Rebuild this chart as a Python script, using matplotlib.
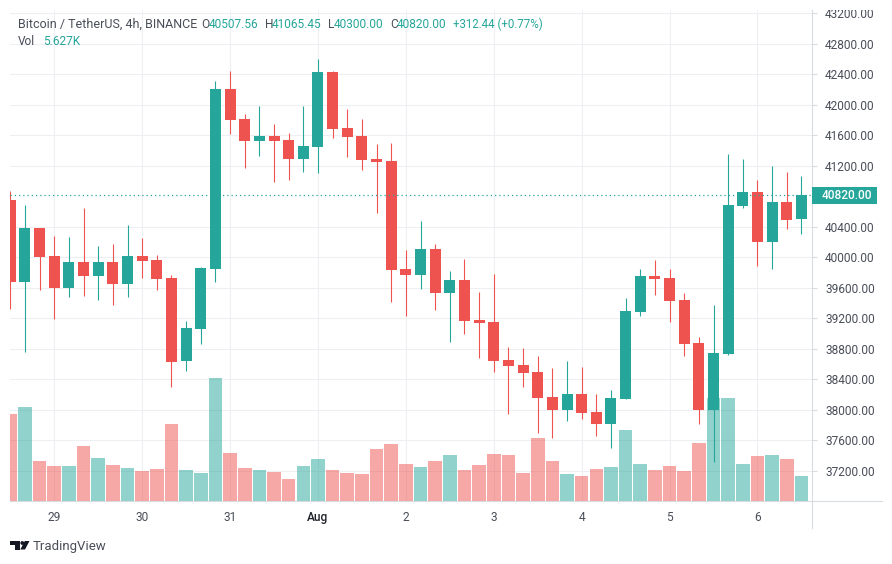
import matplotlib
matplotlib.use('Agg')
import matplotlib.pyplot as plt
from matplotlib.patches import Polygon, Circle, Rectangle
from matplotlib.transforms import Affine2D

plt.rcParams['font.family'] = ['Roboto', 'DejaVu Sans']

# OHLC per 4h candle
opens = [40750, 39679, 40383, 40016, 39600, 39940, 39753, 39940, 39648, 40016, 39963,
         39727, 38639, 39058, 39849, 42207, 41814, 41525, 41590, 41538, 41289, 41446,
         42430, 41695, 41590, 41289, 41262, 39845, 39767, 40108, 39534, 39701, 39176,
         39150, 38651, 38586, 38494, 38166, 37995, 38205, 37969, 37812, 38140, 39281,
         39753, 39727, 39438, 38874, 37995, 38730, 40672, 40855, 40199, 40724, 40507]
highs = [40869, 40685, 40383, 40280, 40268, 40650, 40147, 40174, 40423, 40255, 40029,
         39767, 39163, 39871, 42312, 42443, 41879, 41984, 41748, 41630, 41984, 42600,
         42443, 41945, 41814, 41485, 41498, 40097, 40475, 40176, 39820, 39978, 39543,
         39780, 38822, 38809, 38704, 38546, 38638, 38559, 38205, 38258, 39465, 39845,
         39963, 39845, 39530, 38953, 39373, 41354, 41288, 41013, 41197, 41118, 41065]
lows = [39320, 38760, 39570, 39190, 39482, 39495, 39438, 39373, 39482, 39727, 39570,
        38300, 38511, 38865, 39679, 41616, 41171, 41328, 40987, 41013, 41118, 41105,
        41564, 41315, 41144, 40580, 39416, 39232, 39583, 39307, 38891, 38996, 38681,
        38494, 37943, 38297, 37694, 37628, 37851, 37877, 37654, 37497, 38140, 39228,
        39504, 39150, 38704, 37812, 37313, 38717, 40646, 39885, 39845, 40370, 40300]
closes = [39679, 40383, 40003, 39600, 39940, 39753, 39940, 39648, 40016, 39950, 39714,
          38630, 39071, 39858, 42207, 41800, 41525, 41590, 41525, 41289, 41459, 42430,
          41682, 41577, 41275, 41249, 39832, 39767, 40108, 39534, 39701, 39167, 39137,
          38638, 38573, 38481, 38153, 37995, 38205, 37956, 37812, 38153, 39294, 39753,
          39714, 39425, 38861, 37995, 38743, 40685, 40855, 40199, 40724, 40488, 40820]
volumes = [19575, 21150, 9000, 7875, 7875, 12375, 9675, 8100, 7425, 6750, 7200,
           17325, 6975, 6300, 27675, 10800, 7425, 6975, 6525, 4950, 7875, 9450,
           6975, 6300, 6075, 11700, 12825, 8325, 7650, 9000, 10350, 6975, 8100,
           10575, 10350, 6300, 14175, 9000, 6075, 5625, 7200, 7650, 15975, 8325,
           6975, 7875, 6750, 13050, 23175, 23175, 8325, 10125, 10350, 9450, 5627]

price_ticks = [43200, 42800, 42400, 42000, 41600, 41200, 40400, 40000,
               39600, 39200, 38800, 38400, 38000, 37600, 37200]
date_pos = [3, 9, 15, 21, 27, 33, 39, 45, 51]
date_labels = ['29', '30', '31', 'Aug', '2', '3', '4', '5', '6']
last_price = 40820

GREEN = '#26a69a'
RED = '#ef5350'
GRID = '#eeeff2'
AXIS = '#d9dbe0'
TEXT = '#4a4e59'

W, H = 892, 564
fig = plt.figure(figsize=(W / 100, H / 100), dpi=100)
ax = fig.add_axes([10 / W, 1 - 501 / H, 802 / W, 491 / H])
ax.set_xlim(-0.02, 54.72)
ax.set_ylim(36801, 43243)
ax.grid(True, color=GRID, lw=0.8)
ax.set_axisbelow(True)

vol_ax = ax.twinx()
vol_ax.set_ylim(0, 491 * 225)
vol_ax.axis('off')

x = list(range(len(opens)))
up = [c >= o for o, c in zip(opens, closes)]
colors = [GREEN if u else RED for u in up]

vol_ax.bar(x, volumes, width=0.93, color=colors, alpha=0.5, lw=0)

# candles go on top of the volume bars
cndl_ax = ax.twinx()
cndl_ax.set_ylim(ax.get_ylim())
cndl_ax.axis('off')
cndl_ax.vlines(x, lows, highs, colors=colors, lw=0.8)
cndl_ax.bar(x, [abs(c - o) for o, c in zip(opens, closes)],
            bottom=[min(o, c) for o, c in zip(opens, closes)],
            width=0.75, color=colors, lw=0)
cndl_ax.axhline(last_price, color=GREEN, lw=0.9, ls=(0, (1, 2.4)))

for side in ['top', 'left']:
    ax.spines[side].set_visible(False)
ax.spines['right'].set_color(AXIS)
ax.spines['bottom'].set_color(AXIS)
ax.spines['right'].set_linewidth(0.8)
ax.spines['bottom'].set_linewidth(0.8)

ax.yaxis.tick_right()
ax.set_yticks(price_ticks)
ax.set_yticklabels(['%.2f' % p for p in price_ticks])
ax.tick_params(axis='y', length=3.5, width=0.8, color=AXIS, labelcolor=TEXT,
               labelsize=8.6, pad=6)
ax.set_xticks(date_pos)
ax.set_xticklabels(date_labels)
ax.tick_params(axis='x', length=0, labelcolor=TEXT, labelsize=8.6, pad=7)
for lab in ax.get_xticklabels():
    if lab.get_text() == 'Aug':
        lab.set_color('#20222a')
        lab.set_fontweight('medium')

# pixel coordinates, origin top left, for the decorations around the plot
px = Affine2D().scale(1 / W, -1 / H).translate(0, 1) + fig.transFigure

# the top price label is cut off by the edge of the chart
clip = Rectangle((812, 10), 80, 554, transform=px)
ax.get_yticklabels()[0].set_clip_path(clip)

# extensions of the axis lines
fig.add_artist(plt.Line2D([812, 812], [501, 528], color=AXIS, lw=0.8, transform=px))
fig.add_artist(plt.Line2D([812, 882], [501, 501], color=AXIS, lw=0.8, transform=px))

# last price tag
fig.add_artist(Rectangle((812, 187), 65, 17, color=GREEN, lw=0, transform=px))
fig.text(822 / W, 1 - 195.8 / H, '%.2f' % last_price, color='white', fontsize=8.6,
         fontweight='medium', va='center')


def label(xp, yp, s, color=TEXT, size=8.6):
    fig.text(xp / W, 1 - yp / H, s, color=color, fontsize=size, va='center')


label(18, 24.5, 'Bitcoin / TetherUS, 4h, BINANCE', size=9)
label(201, 24.5, 'O')
label(209, 24.5, '40507.56', GREEN)
label(265, 24.5, 'H')
label(272, 24.5, '41065.45', GREEN)
label(328, 24.5, 'L')
label(334, 24.5, '40300.00', GREEN)
label(390, 24.5, 'C')
label(397, 24.5, '40820.00', GREEN)
label(453, 24.5, '+312.44 (+0.77%)', GREEN, 8.3)
label(18, 41.5, 'Vol')
label(43, 41.5, '5.627K', GREEN)

# TradingView logo
INK = '#131722'
fig.add_artist(Polygon([(10, 541), (19.5, 541), (19.5, 549.5), (14.5, 549.5), (14.5, 544.5), (10, 544.5)],
                       closed=True, color=INK, lw=0, transform=px))
fig.add_artist(Circle((22.3, 543), 1.9, color=INK, lw=0, transform=px))
fig.add_artist(Polygon([(24.8, 541), (29.5, 541), (25, 549.5), (20.3, 549.5)],
                       closed=True, color=INK, lw=0, transform=px))
label(33, 546.5, 'TradingView', '#4a4e59', 9.5)

fig.savefig('out.png', dpi=100)
